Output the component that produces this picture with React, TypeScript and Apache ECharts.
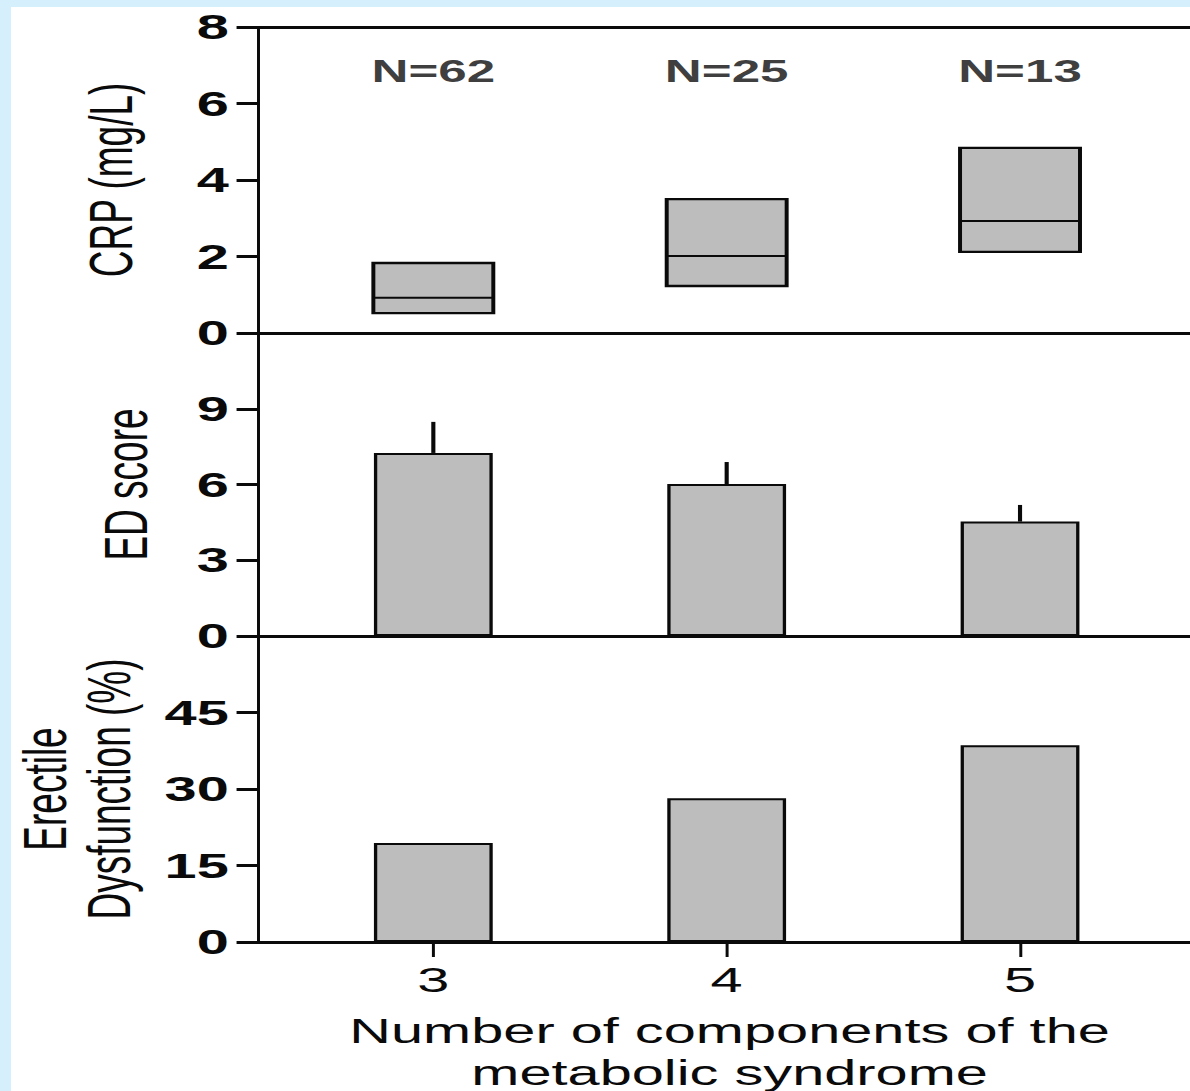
import React, { useEffect, useRef } from "react";
import * as echarts from "echarts";

// ---- data ----
const categories = [3, 4, 5];
const nCounts = [62, 25, 13];
const crpQ1 = [0.52, 1.23, 2.12];
const crpMedian = [0.92, 2.01, 2.93];
const crpQ3 = [1.83, 3.5, 4.84];
const edScore = [7.25, 6.02, 4.53];
const edScoreUpper = [8.48, 6.89, 5.19];
const edPercent = [19.4, 28.2, 38.6];
const crpTicks = [0, 2, 4, 6, 8];
const edTicks = [0, 3, 6, 9];
const pctTicks = [0, 15, 30, 45];

// ---- layout / style ----
const S = 1.65; // horizontal stretch of the original figure
const W = 715;
const H = 1084;
const INK = "#0a0a0a";
const GRAY = "#bdbdbd";
const BLUE = "#d5f0fc";
const FONT = "'Liberation Sans', Arial, Helvetica, sans-serif";
const X_MIN = 2.404;
const X_MAX = 5.582;
const BOX_W = 72.7;
const BAR_W = 72;
const N_LEVEL = 6.84;

export default function App() {
  const ref = useRef<HTMLDivElement>(null);

  useEffect(() => {
    if (!ref.current) return;
    const chart = echarts.init(ref.current, undefined, { renderer: "svg" });

    const grids = [
      { left: 150, right: 0, top: 20, height: 306, outerBoundsMode: "none", containLabel: false },
      { left: 150, right: 0, top: 326, height: 303, outerBoundsMode: "none", containLabel: false },
      { left: 150, right: 0, top: 629, height: 306, outerBoundsMode: "none", containLabel: false },
    ];

    const xBase: any = {
      type: "value",
      min: X_MIN,
      max: X_MAX,
      axisLine: { show: true, onZero: false, lineStyle: { color: INK, width: 3 } },
      axisTick: { show: false },
      axisLabel: { show: false },
      splitLine: { show: false },
    };

    const yBase = (
      gi: number,
      max: number,
      ticks: number[],
      name: string,
      gap: number,
      lineHeight: number
    ): any => ({
      type: "value",
      gridIndex: gi,
      min: 0,
      max,
      axisLine: { show: true, lineStyle: { color: INK, width: 1.8 } },
      axisTick: {
        show: true,
        customValues: ticks,
        length: 13.3,
        lineStyle: { color: INK, width: 3 },
      },
      axisLabel: {
        show: true,
        customValues: ticks,
        margin: 18,
        fontSize: 35,
        fontWeight: "bold",
        color: INK,
        fontFamily: FONT,
      },
      splitLine: { show: false },
      name,
      nameLocation: "middle",
      nameRotate: 90,
      nameGap: gap,
      nameTextStyle: { fontSize: 37, color: INK, fontFamily: FONT, lineHeight },
    });

    const option: any = {
      animation: false,
      backgroundColor: "#ffffff",
      textStyle: { fontFamily: FONT },
      grid: grids,
      xAxis: [
        { ...xBase, gridIndex: 0, position: "bottom" },
        { ...xBase, gridIndex: 0, position: "top" },
        { ...xBase, gridIndex: 1, position: "bottom" },
        {
          ...xBase,
          gridIndex: 2,
          position: "bottom",
          axisTick: {
            show: true,
            customValues: categories,
            length: 15,
            lineStyle: { color: INK, width: 1.8 },
          },
          axisLabel: {
            show: true,
            customValues: categories,
            margin: 20,
            fontSize: 35,
            color: INK,
            fontFamily: FONT,
          },
          name: "Number of components of the\nmetabolic syndrome",
          nameLocation: "middle",
          nameGap: 68,
          nameTextStyle: {
            fontSize: 35,
            lineHeight: 42,
            color: INK,
            fontFamily: FONT,
            padding: [0, 0, 0, 6],
          },
        },
      ],
      yAxis: [
        yBase(0, 8, crpTicks, "CRP (mg/L)", 71, 37),
        yBase(1, 12, edTicks, "ED score", 62, 37),
        yBase(2, 60, pctTicks, "Erectile\nDysfunction (%)", 71, 39),
      ],
      series: [
        {
          type: "custom",
          xAxisIndex: 0,
          yAxisIndex: 0,
          data: categories.map((c, i) => [c, crpQ1[i], crpMedian[i], crpQ3[i]]),
          encode: { x: 0, y: [1, 2, 3] },
          renderItem: (params: any, api: any) => {
            const x = api.value(0);
            const lo = api.coord([x, api.value(1)]);
            const med = api.coord([x, api.value(2)]);
            const hi = api.coord([x, api.value(3)]);
            const half = BOX_W / 2;
            return {
              type: "group",
              children: [
                {
                  type: "rect",
                  shape: { x: lo[0] - half, y: hi[1], width: BOX_W, height: lo[1] - hi[1] },
                  style: { fill: GRAY, stroke: INK, lineWidth: 2.4 },
                },
                {
                  type: "line",
                  shape: { x1: lo[0] - half, y1: med[1], x2: lo[0] + half, y2: med[1] },
                  style: { stroke: INK, lineWidth: 2 },
                },
              ],
            };
          },
        },
        {
          type: "scatter",
          xAxisIndex: 0,
          yAxisIndex: 0,
          symbolSize: 1,
          itemStyle: { color: "rgba(0,0,0,0)" },
          data: categories.map((c) => [c, N_LEVEL]),
          label: {
            show: true,
            position: "inside",
            formatter: (p: any) => "N=" + nCounts[p.dataIndex],
            fontSize: 31,
            fontWeight: "bold",
            color: INK,
            fontFamily: FONT,
          },
          silent: true,
        },
        {
          type: "bar",
          xAxisIndex: 2,
          yAxisIndex: 1,
          barWidth: BAR_W,
          data: categories.map((c, i) => [c, edScore[i]]),
          itemStyle: { color: GRAY, borderColor: INK, borderWidth: 2 },
        },
        {
          type: "custom",
          xAxisIndex: 2,
          yAxisIndex: 1,
          data: categories.map((c, i) => [c, edScore[i], edScoreUpper[i]]),
          encode: { x: 0, y: [1, 2] },
          renderItem: (params: any, api: any) => {
            const x = api.value(0);
            const a = api.coord([x, api.value(1)]);
            const b = api.coord([x, api.value(2)]);
            return {
              type: "line",
              shape: { x1: a[0], y1: a[1], x2: b[0], y2: b[1] },
              style: { stroke: INK, lineWidth: 2.5 },
            };
          },
        },
        {
          type: "bar",
          xAxisIndex: 3,
          yAxisIndex: 2,
          barWidth: BAR_W,
          data: categories.map((c, i) => [c, edPercent[i]]),
          itemStyle: { color: GRAY, borderColor: INK, borderWidth: 2 },
        },
      ],
    };

    chart.setOption(option);
    return () => chart.dispose();
  }, []);

  return (
    <div
      style={{
        position: "absolute",
        left: 0,
        top: 0,
        width: 1190,
        height: 1091,
        background: BLUE,
        overflow: "hidden",
      }}
    >
      <div
        ref={ref}
        style={{
          position: "absolute",
          left: 11,
          top: 7,
          width: W,
          height: H,
          background: "#ffffff",
          transform: `scaleX(${S})`,
          transformOrigin: "0 0",
        }}
      />
    </div>
  );
}
